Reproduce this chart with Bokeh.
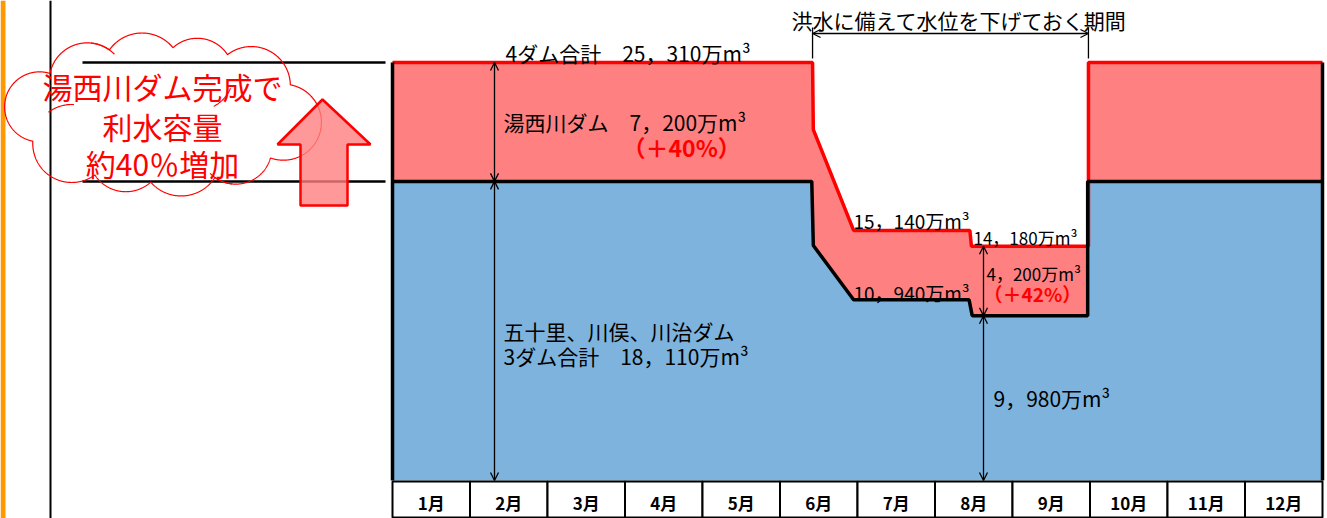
import numpy as np
from bokeh.plotting import figure
from bokeh.models import Range1d, Arrow, OpenHead
from bokeh.core.properties import value
from bokeh.embed import file_html
from bokeh.resources import INLINE

# ---------------- data ----------------
months = ["1月", "2月", "3月", "4月", "5月", "6月", "7月", "8月", "9月", "10月", "11月", "12月"]
# 4-dam total storage (万m3) vs time (months since Jan 1)
total_t = [0, 5.42, 5.43, 5.95, 7.45, 7.47, 8.98, 8.98, 12]
total_v = [25310, 25310, 21250, 15140, 15140, 14180, 14180, 25310, 25310]
# 3-dam (五十里・川俣・川治) storage
base_t = [0, 5.41, 5.43, 5.95, 7.44, 7.48, 8.97, 8.97, 12]
base_v = [18110, 18110, 14230, 10940, 10940, 9980, 9980, 18110, 18110]
yunishi_v = 7200       # 湯西川ダム (non-flood season)
yunishi_flood_v = 4200  # 湯西川ダム (flood season)
pct_normal = 40
pct_flood = 42

FONT = value("Noto Sans CJK JP")
RED_FILL = "#FF8080"
BLUE_FILL = "#7DB3DC"

W, H = 1327, 518
X0, PXM = 392.0, 77.5
YB = 480.0
S = (YB - 62.0) / total_v[0]


def X(px):
    return (px - X0) / PXM


def Y(py):
    return (YB - py) / S


def man(v):
    return f"{v // 1000}，{v % 1000:03d}万m³" if v >= 1000 else f"{v}万m³"


p = figure(width=W, height=H, x_range=Range1d(X(0), X(W)), y_range=Range1d(Y(H), Y(0)),
           x_axis_type=None, y_axis_type=None, toolbar_location=None,
           output_backend="svg", min_border=0, outline_line_color=None,
           background_fill_color="white", border_fill_color="white")

# ---------------- left decorations ----------------
p.quad(left=X(0), right=X(5), top=Y(0), bottom=Y(H), fill_color="#FF9900", line_color=None)
p.line([X(50), X(50)], [Y(0), Y(H)], line_color="black", line_width=2)
for v in (total_v[0], base_v[0]):
    p.line([X(82), X(385)], [v, v], line_color="black", line_width=2.5)

# cloud outline (union of bumps around an ellipse)
cx, cy, ea, eb = 161.0, 114.0, 124.0, 42.0
tt = np.linspace(0, 2 * np.pi, 3000)
ex, ey = cx + ea * np.cos(tt), cy + eb * np.sin(tt)
arc = np.concatenate([[0], np.cumsum(np.hypot(np.diff(ex), np.diff(ey)))])
nb = 10
idx = np.searchsorted(arc, np.linspace(0, arc[-1], nb, endpoint=False) + 8)
bx, by = ex[idx], ey[idx]
br = np.array([38, 36, 40, 37, 39, 35, 38, 40, 36, 39], dtype=float)
th = np.linspace(0, 2 * np.pi, 720, endpoint=False)
pts = []
for i in range(nb):
    qx, qy = bx[i] + br[i] * np.cos(th), by[i] + br[i] * np.sin(th)
    keep = ((qx - cx) / ea) ** 2 + ((qy - cy) / eb) ** 2 > 1
    for j in range(nb):
        if j != i:
            keep &= np.hypot(qx - bx[j], qy - by[j]) > br[j]
    pts.append(np.c_[qx[keep], qy[keep]])
pts = np.vstack(pts)
order = np.argsort(np.arctan2((pts[:, 1] - cy) / eb, (pts[:, 0] - cx) / ea))
pts = pts[order]
pts = np.vstack([pts, pts[:1]])
p.line(X(pts[:, 0]), Y(pts[:, 1]), line_color="red", line_width=1.2)
# a few short inner arcs typical of a cloud callout
for i in (1, 4, 6, 8):
    ang0 = np.arctan2(cy - by[i], cx - bx[i])
    a = np.linspace(ang0 - 1.9, ang0 - 1.2, 30)
    p.line(X(bx[i] + br[i] * np.cos(a)), Y(by[i] + br[i] * np.sin(a)), line_color="red", line_width=1.2)

for txt, py in (("湯西川ダム完成で", 85), ("利水容量", 125), ("約40％増加", 162)):
    p.text(x=[X(162)], y=[Y(py)], text=[txt], text_align="center", text_baseline="middle",
           text_font=FONT, text_font_size="30px", text_color="red")

# big up arrow
ax = [322, 370, 347, 347, 300, 300, 277]
ay = [99, 144, 144, 205, 205, 144, 144]
p.patch(X(np.array(ax, float)), Y(np.array(ay, float)), fill_color=RED_FILL, fill_alpha=0.8,
        line_color="red", line_width=2.5)

# ---------------- main storage chart ----------------
blue_x = base_t + [12, 0]
blue_y = base_v + [0, 0]
p.patch(blue_x, blue_y, fill_color=BLUE_FILL, line_color=None)
red_x = total_t + base_t[::-1]
red_y = total_v + base_v[::-1]
p.patch(red_x, red_y, fill_color=RED_FILL, line_color=None)
p.line(total_t, total_v, line_color="red", line_width=3.5)
p.line(base_t, base_v, line_color="black", line_width=3.5)
p.line([0, 0], [0, total_v[0]], line_color="black", line_width=3.5)
p.line([12, 12], [0, total_v[-1]], line_color="black", line_width=3.5)

# month cells
p.quad(left=list(range(12)), right=list(range(1, 13)), top=Y(481), bottom=Y(517),
       fill_color="white", line_color="black", line_width=2)
p.text(x=[i + 0.5 for i in range(12)], y=[Y(502)] * 12, text=months, text_align="center",
       text_baseline="middle", text_font=FONT, text_font_size="17px", text_font_style="bold",
       text_color="black")


def lab(px, py, txt, size, color="black", bold=False):
    p.text(x=[X(px)], y=[Y(py)], text=[txt], text_align="left", text_baseline="middle",
           text_font=FONT, text_font_size=size, text_color=color,
           text_font_style="bold" if bold else "normal")


lab(505, 52, f"4ダム合計　{man(total_v[0])}", "21px")
lab(503, 121, f"湯西川ダム　{man(yunishi_v)}", "21px")
lab(622, 146, f"（＋{pct_normal}%）", "23px", "red", True)
lab(791, 19, "洪水に備えて水位を下げておく期間", "21px")
lab(853, 220, man(total_v[3]), "19px")
lab(973, 237, man(total_v[5]), "17px")
lab(986, 273, man(yunishi_flood_v), "17px")
lab(983, 293, f"（＋{pct_flood}%）", "19px", "red", True)
lab(853, 292, man(base_v[3]), "19px")
lab(503, 330, "五十里、川俣、川治ダム", "21px")
lab(503, 355, f"3ダム合計　{man(base_v[0])}", "21px")
lab(993, 397, man(base_v[5]), "21px")

# dimension arrows
def dim(x0, y0, x1, y1):
    p.add_layout(Arrow(start=OpenHead(size=8, line_width=1.3), end=OpenHead(size=8, line_width=1.3),
                       x_start=x0, y_start=y0, x_end=x1, y_end=y1, line_width=1.3, line_color="black"))


xa, xb = X(494), X(983)
dim(xa, total_v[0], xa, base_v[0])
dim(xa, base_v[0], xa, 0)
dim(xb, total_v[5], xb, base_v[5])
dim(xb, base_v[5], xb, 0)
dim(total_t[1], Y(33), total_t[6], Y(33))
for t in (total_t[1], total_t[6]):
    p.line([t, t], [Y(27), Y(58)], line_color="black", line_width=1.3)

open("out.html", "w").write(file_html(p, INLINE))
